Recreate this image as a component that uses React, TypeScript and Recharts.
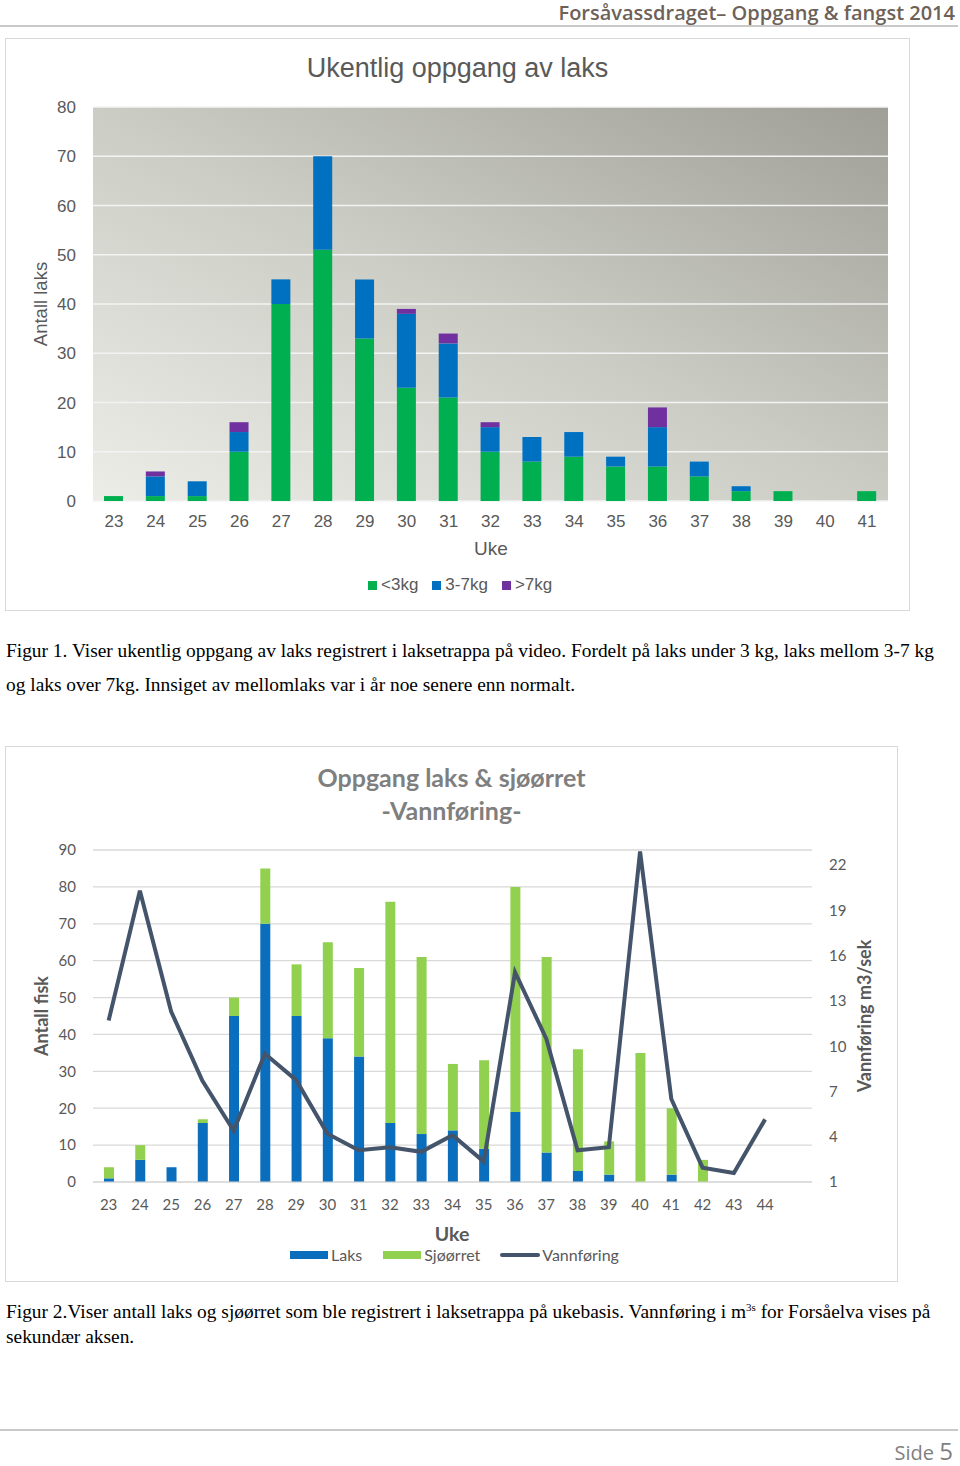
import React from 'react';
import { BarChart, Bar, XAxis, YAxis, CartesianGrid, ComposedChart, Line } from 'recharts';

// ---------- Figure 1 data ----------
const weeks1 = ['23', '24', '25', '26', '27', '28', '29', '30', '31', '32', '33', '34', '35', '36', '37', '38', '39', '40', '41'];
const under3kg = [1, 1, 1, 10, 40, 51, 33, 23, 21, 10, 8, 9, 7, 7, 5, 2, 2, 0, 2];
const mid3to7kg = [0, 4, 3, 4, 5, 19, 12, 15, 11, 5, 5, 5, 2, 8, 3, 1, 0, 0, 0];
const over7kg = [0, 1, 0, 2, 0, 0, 0, 1, 2, 1, 0, 0, 0, 4, 0, 0, 0, 0, 0];
const ticks1 = [0, 10, 20, 30, 40, 50, 60, 70, 80];

// ---------- Figure 2 data ----------
const weeks2 = ['23', '24', '25', '26', '27', '28', '29', '30', '31', '32', '33', '34', '35', '36', '37', '38', '39', '40', '41', '42', '43', '44', ''];
const laks = [1, 6, 4, 16, 45, 70, 45, 39, 34, 16, 13, 14, 9, 19, 8, 3, 2, 0, 2, 0, 0, 0, null];
const sjoorret = [3, 4, 0, 1, 5, 15, 14, 26, 24, 60, 48, 18, 24, 61, 53, 33, 9, 35, 18, 6, 0, 0, null];
const vannforing = [11.7, 20.3, 12.3, 7.7, 4.4, 9.5, 7.75, 4.2, 3.1, 3.3, 3.0, 4.1, 2.35, 14.9, 10.5, 3.1, 3.3, 22.9, 6.5, 1.95, 1.6, 5.15, null];
const leftTicks2 = [0, 10, 20, 30, 40, 50, 60, 70, 80, 90];
const rightTicks2 = [1, 4, 7, 10, 13, 16, 19, 22];

const data1 = weeks1.map((w, i) => ({ week: w, a: under3kg[i], b: mid3to7kg[i], c: over7kg[i] }));
const data2 = weeks2.map((w, i) => ({ week: w, laks: laks[i], sjo: sjoorret[i], vann: vannforing[i] }));

const GREEN = '#00b050';
const BLUE = '#0070c0';
const PURPLE = '#7030a0';
const LBLUE = '#0a6ebd';
const LGREEN = '#92d050';
const LINE = '#44546a';
const TXT = '#595959';

const abs = (s: React.CSSProperties): React.CSSProperties => ({ position: 'absolute', ...s });

const captionStyle: React.CSSProperties = { fontFamily: 'Liberation Serif', fontSize: 19.4, lineHeight: '22px', color: '#000', whiteSpace: 'nowrap' };

export default function App() {
  return (
    <div style={{ position: 'absolute', left: 0, top: 0, width: 960, height: 1466, background: '#fff', overflow: 'hidden' }}>
      <svg width={0} height={0} style={{ position: 'absolute' }}>
        <defs>
          <linearGradient id="bg1" x1="0" y1="1" x2="1" y2="0">
            <stop offset="0%" stopColor="#ecede7" />
            <stop offset="50%" stopColor="#cbccc4" />
            <stop offset="100%" stopColor="#9f9f98" />
          </linearGradient>
        </defs>
      </svg>

      {/* Header */}
      <div style={abs({ right: 5, top: 0, fontFamily: 'Open Sans', fontWeight: 600, fontSize: 20, lineHeight: '26px', color: '#6d6158', whiteSpace: 'nowrap' })}>
        Forsåvassdraget– Oppgang &amp; fangst 2014
      </div>
      <div style={abs({ left: 0, top: 25, width: 958, height: 2, background: '#c9c9c9' })} />

      {/* ---------- Figure 1 ---------- */}
      <div style={abs({ left: 5, top: 38, width: 903, height: 571, border: '1px solid #d9d9d9' })} />
      <div style={abs({ left: 5, top: 51, width: 905, textAlign: 'center', fontFamily: 'Liberation Sans', fontSize: 27, lineHeight: '34px', color: TXT })}>
        Ukentlig oppgang av laks
      </div>
      <div style={abs({ left: 5, top: 38 })}>
        <BarChart width={905} height={573} data={data1} margin={{ top: 69, right: 22, left: 0, bottom: 0 }} barSize={19}>
          <CartesianGrid vertical={false} stroke="#f3f3f3" strokeWidth={1.5} fill="url(#bg1)" fillOpacity={1} />
          <XAxis dataKey="week" height={110} axisLine={false} tickLine={false} tickMargin={8} interval={0}
            tick={{ fill: TXT, fontSize: 17, fontFamily: 'Liberation Sans' }} />
          <YAxis width={88} domain={[0, 80]} ticks={ticks1} axisLine={false} tickLine={false} tickMargin={11}
            tick={{ fill: TXT, fontSize: 17, fontFamily: 'Liberation Sans' }} />
          <Bar dataKey="a" stackId="s" fill={GREEN} isAnimationActive={false} />
          <Bar dataKey="b" stackId="s" fill={BLUE} isAnimationActive={false} />
          <Bar dataKey="c" stackId="s" fill={PURPLE} isAnimationActive={false} />
        </BarChart>
      </div>
      <div style={abs({ left: 41 - 100, top: 304 - 12, width: 200, height: 24, lineHeight: '24px', textAlign: 'center', transform: 'rotate(-90deg)', fontFamily: 'Liberation Sans', fontSize: 18.5, color: TXT })}>
        Antall laks
      </div>
      <div style={abs({ left: 391, top: 537, width: 200, textAlign: 'center', fontFamily: 'Liberation Sans', fontSize: 19, lineHeight: '24px', color: TXT })}>
        Uke
      </div>
      <div style={abs({ left: 368, top: 574, display: 'flex', alignItems: 'center', fontFamily: 'Liberation Sans', fontSize: 17, lineHeight: '22px', color: TXT, whiteSpace: 'nowrap' })}>
        <span style={{ display: 'inline-block', width: 9, height: 9, background: GREEN, marginRight: 4 }} />
        <span style={{ marginRight: 14 }}>&lt;3kg</span>
        <span style={{ display: 'inline-block', width: 9, height: 9, background: BLUE, marginRight: 4 }} />
        <span style={{ marginRight: 14 }}>3-7kg</span>
        <span style={{ display: 'inline-block', width: 9, height: 9, background: PURPLE, marginRight: 4 }} />
        <span>&gt;7kg</span>
      </div>

      {/* Caption 1 */}
      <div style={abs({ left: 6, top: 640, ...captionStyle })}>
        Figur 1. Viser ukentlig oppgang av laks registrert i laksetrappa på video. Fordelt på laks under 3 kg, laks mellom 3-7 kg
      </div>
      <div style={abs({ left: 6, top: 674, ...captionStyle })}>
        og laks over 7kg. Innsiget av mellomlaks var i år noe senere enn normalt.
      </div>

      {/* ---------- Figure 2 ---------- */}
      <div style={abs({ left: 5, top: 746, width: 891, height: 534, border: '1px solid #d9d9d9' })} />
      <div style={abs({ left: 5, top: 761, width: 893, textAlign: 'center', fontFamily: 'Lato', fontWeight: 700, fontSize: 25, lineHeight: '33px', color: '#7f7f7f' })}>
        Oppgang laks &amp; sjøørret
        <br />
        -Vannføring-
      </div>
      <div style={abs({ left: 5, top: 746 })}>
        <ComposedChart width={893} height={536} data={data2} margin={{ top: 104, right: 0, left: 0, bottom: 0 }} barSize={10}>
          <CartesianGrid vertical={false} stroke="#d9d9d9" strokeWidth={1.3} yAxisId="left" />
          <XAxis dataKey="week" height={100} axisLine={{ stroke: '#d9d9d9' }} tickLine={false} tickMargin={11} interval={0}
            tick={{ fill: TXT, fontSize: 15, fontFamily: 'Lato' }} />
          <YAxis yAxisId="left" width={88} domain={[0, 90]} ticks={leftTicks2} axisLine={false} tickLine={false} tickMargin={11}
            tick={{ fill: TXT, fontSize: 15, fontFamily: 'Lato' }} />
          <YAxis yAxisId="right" orientation="right" width={86} domain={[1, 23]} ticks={rightTicks2} axisLine={false} tickLine={false} tickMargin={11}
            tick={{ fill: TXT, fontSize: 15, fontFamily: 'Lato', textAnchor: 'start' }} />
          <Bar yAxisId="left" dataKey="laks" stackId="f" fill={LBLUE} isAnimationActive={false} />
          <Bar yAxisId="left" dataKey="sjo" stackId="f" fill={LGREEN} isAnimationActive={false} />
          <Line yAxisId="right" dataKey="vann" stroke={LINE} strokeWidth={4} dot={false} type="linear" isAnimationActive={false} />
        </ComposedChart>
      </div>
      <div style={abs({ left: 41 - 100, top: 1016 - 12, width: 200, height: 24, lineHeight: '24px', textAlign: 'center', transform: 'rotate(-90deg)', fontFamily: 'Lato', fontWeight: 700, fontSize: 18, color: TXT })}>
        Antall fisk
      </div>
      <div style={abs({ left: 864 - 100, top: 1016 - 12, width: 200, height: 24, lineHeight: '24px', textAlign: 'center', transform: 'rotate(-90deg)', fontFamily: 'Lato', fontWeight: 700, fontSize: 18, color: TXT })}>
        Vannføring m3/sek
      </div>
      <div style={abs({ left: 352, top: 1225, width: 200, textAlign: 'center', fontFamily: 'Lato', fontWeight: 700, fontSize: 19.5, lineHeight: '18px', color: TXT })}>
        Uke
      </div>
      <div style={abs({ left: 290, top: 1246, display: 'flex', alignItems: 'center', fontFamily: 'Lato', fontSize: 16, lineHeight: '17px', color: TXT, whiteSpace: 'nowrap' })}>
        <span style={{ display: 'inline-block', width: 38, height: 8, background: LBLUE, marginRight: 3 }} />
        <span style={{ marginRight: 21 }}>Laks</span>
        <span style={{ display: 'inline-block', width: 38, height: 8, background: LGREEN, marginRight: 3 }} />
        <span style={{ marginRight: 20 }}>Sjøørret</span>
        <span style={{ display: 'inline-block', width: 40, height: 4, background: LINE, borderRadius: 2, marginRight: 2 }} />
        <span>Vannføring</span>
      </div>

      {/* Caption 2 */}
      <div style={abs({ left: 6, top: 1301, ...captionStyle })}>
        Figur 2.Viser antall laks og sjøørret som ble registrert i laksetrappa på ukebasis. Vannføring i m<sup style={{ fontSize: 11, verticalAlign: 'top', lineHeight: '12px' }}>3s</sup> for Forsåelva vises på
      </div>
      <div style={abs({ left: 6, top: 1326, ...captionStyle })}>
        sekundær aksen.
      </div>

      {/* Footer */}
      <div style={abs({ left: 0, top: 1429, width: 958, height: 2, background: '#c9c9c9' })} />
      <div style={abs({ right: 7, top: 1438, fontFamily: 'Open Sans', fontSize: 20, lineHeight: '26px', color: '#7f7f7f', whiteSpace: 'nowrap' })}>
        Side <span style={{ fontSize: 24 }}>5</span>
      </div>
    </div>
  );
}
